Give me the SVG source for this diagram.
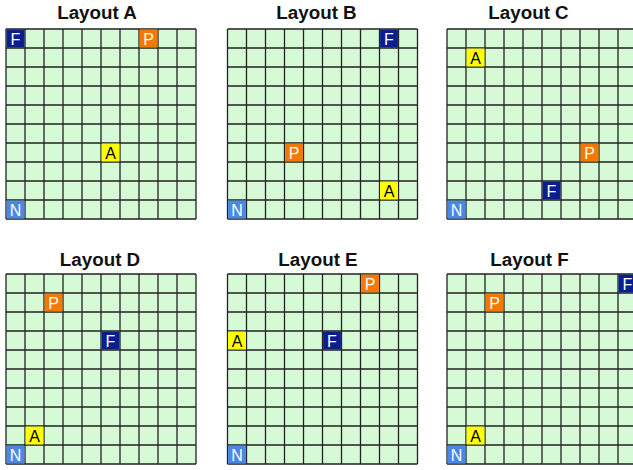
<svg xmlns="http://www.w3.org/2000/svg" xmlns:xlink="http://www.w3.org/1999/xlink" width="633" height="470" viewBox="0 0 633 470">
<style>
.title{font-family:"Liberation Sans",Arial,sans-serif;font-weight:bold;font-size:18.8px;fill:#111;text-anchor:middle}
.lbl{font-family:"Liberation Sans",Arial,sans-serif;font-size:16px;text-anchor:middle}
.w{fill:#fff}.k{fill:#000}
.F{fill:#0a1e8e}.P{fill:#f77800}.A{fill:#ffff00}.N{fill:#4a87e6}
.gl{stroke:#222;stroke-width:1.3;fill:none}
</style>
<defs>
<g id="grid">
<rect x="0" y="0" width="190" height="190" fill="#d6f9d6"/>
<path class="gl" d="M0 0V190M19 0V190M38 0V190M57 0V190M76 0V190M95 0V190M114 0V190M133 0V190M152 0V190M171 0V190M190 0V190M0 0H190M0 19H190M0 38H190M0 57H190M0 76H190M0 95H190M0 114H190M0 133H190M0 152H190M0 171H190M0 190H190"/>
</g>
</defs>

<g id="layoutA" transform="translate(6,29)">
<text class="title" x="91" y="-10">Layout A</text>
<use xlink:href="#grid"/>
<g id="A-F"><rect class="F" x="0.6" y="0.6" width="17.8" height="17.8"/><text class="lbl w" x="9.5" y="15.5">F</text></g>
<g id="A-P"><rect class="P" x="133.6" y="0.6" width="17.8" height="17.8"/><text class="lbl w" x="142.5" y="15.5">P</text></g>
<g id="A-A"><rect class="A" x="95.6" y="114.6" width="17.8" height="17.8"/><text class="lbl k" x="104.5" y="129.5">A</text></g>
<g id="A-N"><rect class="N" x="0.6" y="171.6" width="17.8" height="17.8"/><text class="lbl w" x="9.5" y="186.5">N</text></g>
</g>

<g id="layoutB" transform="translate(227.5,29)">
<text class="title" x="89" y="-10">Layout B</text>
<use xlink:href="#grid"/>
<g id="B-F"><rect class="F" x="152.6" y="0.6" width="17.8" height="17.8"/><text class="lbl w" x="161.5" y="15.5">F</text></g>
<g id="B-P"><rect class="P" x="57.6" y="114.6" width="17.8" height="17.8"/><text class="lbl w" x="66.5" y="129.5">P</text></g>
<g id="B-A"><rect class="A" x="152.6" y="152.6" width="17.8" height="17.8"/><text class="lbl k" x="161.5" y="167.5">A</text></g>
<g id="B-N"><rect class="N" x="0.6" y="171.6" width="17.8" height="17.8"/><text class="lbl w" x="9.5" y="186.5">N</text></g>
</g>

<g id="layoutC" transform="translate(447,29)">
<text class="title" x="81.5" y="-10">Layout C</text>
<use xlink:href="#grid"/>
<g id="C-A"><rect class="A" x="19.6" y="19.6" width="17.8" height="17.8"/><text class="lbl k" x="28.5" y="34.5">A</text></g>
<g id="C-P"><rect class="P" x="133.6" y="114.6" width="17.8" height="17.8"/><text class="lbl w" x="142.5" y="129.5">P</text></g>
<g id="C-F"><rect class="F" x="95.6" y="152.6" width="17.8" height="17.8"/><text class="lbl w" x="104.5" y="167.5">F</text></g>
<g id="C-N"><rect class="N" x="0.6" y="171.6" width="17.8" height="17.8"/><text class="lbl w" x="9.5" y="186.5">N</text></g>
</g>

<g id="layoutD" transform="translate(6,274)">
<text class="title" x="94" y="-8.5">Layout D</text>
<use xlink:href="#grid"/>
<g id="D-P"><rect class="P" x="38.6" y="19.6" width="17.8" height="17.8"/><text class="lbl w" x="47.5" y="34.5">P</text></g>
<g id="D-F"><rect class="F" x="95.6" y="57.6" width="17.8" height="17.8"/><text class="lbl w" x="104.5" y="72.5">F</text></g>
<g id="D-A"><rect class="A" x="19.6" y="152.6" width="17.8" height="17.8"/><text class="lbl k" x="28.5" y="167.5">A</text></g>
<g id="D-N"><rect class="N" x="0.6" y="171.6" width="17.8" height="17.8"/><text class="lbl w" x="9.5" y="186.5">N</text></g>
</g>

<g id="layoutE" transform="translate(227.5,274)">
<text class="title" x="90.5" y="-8.5">Layout E</text>
<use xlink:href="#grid"/>
<g id="E-P"><rect class="P" x="133.6" y="0.6" width="17.8" height="17.8"/><text class="lbl w" x="142.5" y="15.5">P</text></g>
<g id="E-A"><rect class="A" x="0.6" y="57.6" width="17.8" height="17.8"/><text class="lbl k" x="9.5" y="72.5">A</text></g>
<g id="E-F"><rect class="F" x="95.6" y="57.6" width="17.8" height="17.8"/><text class="lbl w" x="104.5" y="72.5">F</text></g>
<g id="E-N"><rect class="N" x="0.6" y="171.6" width="17.8" height="17.8"/><text class="lbl w" x="9.5" y="186.5">N</text></g>
</g>

<g id="layoutF" transform="translate(447,274)">
<text class="title" x="82.5" y="-8.5">Layout F</text>
<use xlink:href="#grid"/>
<g id="F-F"><rect class="F" x="171.6" y="0.6" width="17.8" height="17.8"/><text class="lbl w" x="180.5" y="15.5">F</text></g>
<g id="F-P"><rect class="P" x="38.6" y="19.6" width="17.8" height="17.8"/><text class="lbl w" x="47.5" y="34.5">P</text></g>
<g id="F-A"><rect class="A" x="19.6" y="152.6" width="17.8" height="17.8"/><text class="lbl k" x="28.5" y="167.5">A</text></g>
<g id="F-N"><rect class="N" x="0.6" y="171.6" width="17.8" height="17.8"/><text class="lbl w" x="9.5" y="186.5">N</text></g>
</g>

<g id="connectors"></g>
</svg>
